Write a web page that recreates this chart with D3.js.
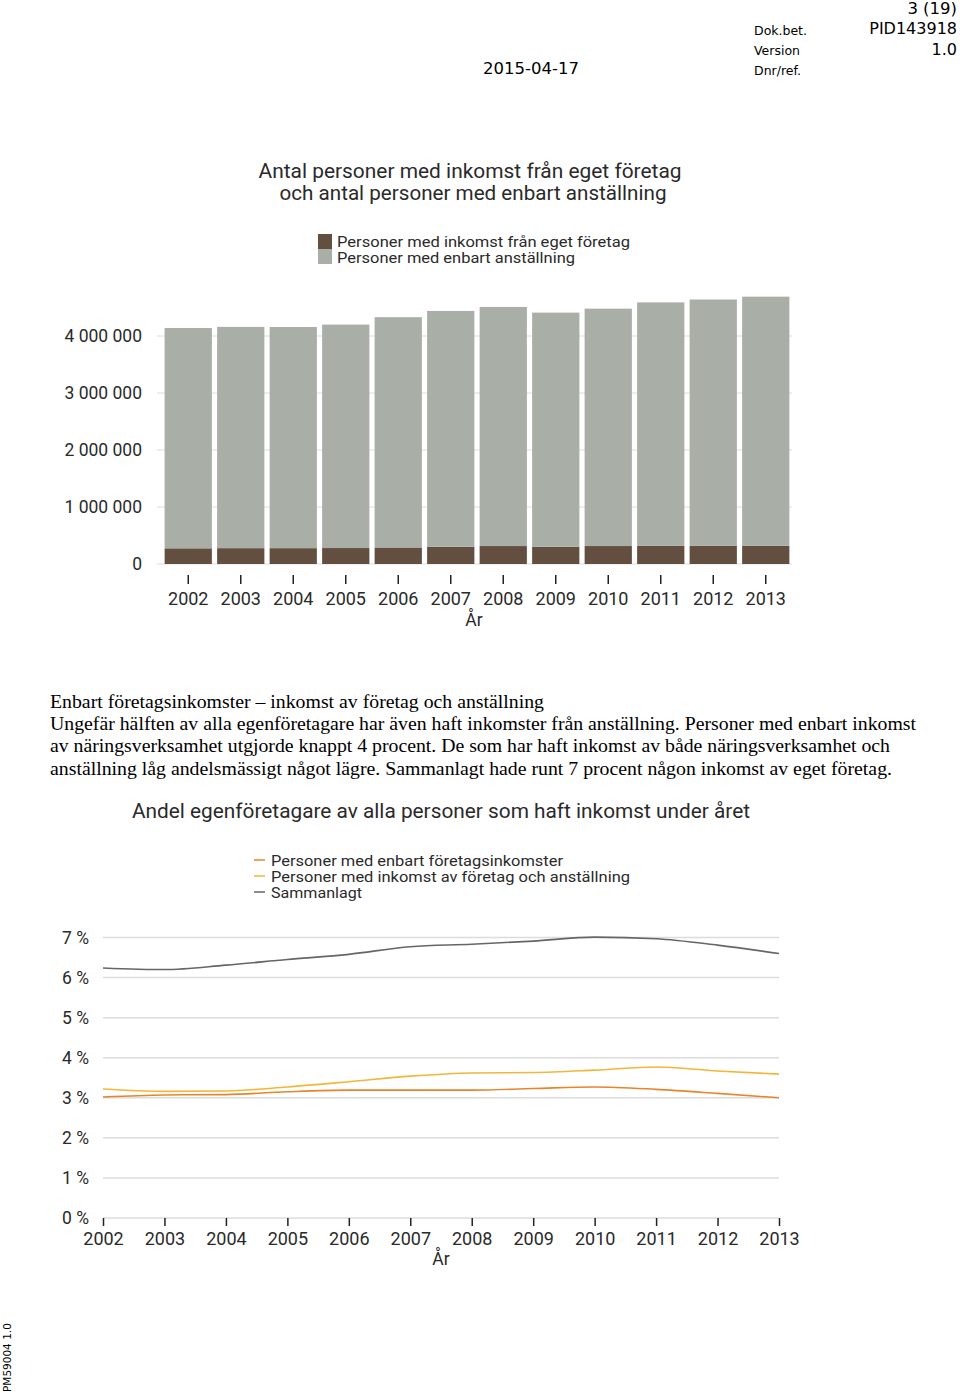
<!DOCTYPE html>
<html><head><meta charset="utf-8">
<script src="https://cdn.jsdelivr.net/npm/d3@7"></script>
<style>
html,body{margin:0;padding:0;background:#fff;}
svg{display:block;}
</style></head>
<body>
<svg id="page" width="960" height="1395"></svg>
<script>
// ---- Data ----
const years = ["2002","2003","2004","2005","2006","2007","2008","2009","2010","2011","2012","2013"];
const barSeriesNames = ["Personer med inkomst från eget företag","Personer med enbart anställning"];
const ownBusiness = [275000,278000,278000,280000,290000,300000,315000,300000,315000,318000,318000,318000];
const onlyEmployment = [3865000,3882000,3880000,3920000,4040000,4140000,4195000,4110000,4165000,4272000,4322000,4372000];
const barTicks = [0,1000000,2000000,3000000,4000000];

const lineSeriesNames = ["Personer med enbart företagsinkomster","Personer med inkomst av företag och anställning","Sammanlagt"];
const onlyBusinessPct = [3.02,3.07,3.08,3.15,3.19,3.19,3.19,3.23,3.27,3.21,3.11,3.00];
const bothPct = [3.22,3.16,3.17,3.27,3.40,3.54,3.62,3.63,3.69,3.77,3.67,3.59];
const totalPct = [6.24,6.20,6.31,6.45,6.58,6.77,6.83,6.91,7.01,6.97,6.81,6.60];
const pctTicks = [0,1,2,3,4,5,6,7];

const paragraph = [
 "Enbart företagsinkomster – inkomst av företag och anställning",
 "Ungefär hälften av alla egenföretagare har även haft inkomster från anställning. Personer med enbart inkomst",
 "av näringsverksamhet utgjorde knappt 4 procent. De som har haft inkomst av både näringsverksamhet och",
 "anställning låg andelsmässigt något lägre. Sammanlagt hade runt 7 procent någon inkomst av eget företag."
];

// ---- Setup ----
const svg = d3.select("#page");
svg.append("rect").attr("width",960).attr("height",1395).attr("fill","#fff");
const chartFont = "Roboto, 'DejaVu Sans', sans-serif";
const txt = "#2a2a2a";

// Header
const hdr = svg.append("g").attr("font-family","'DejaVu Sans', Verdana, sans-serif").attr("fill","#000");
hdr.append("text").attr("x",957).attr("y",14).attr("text-anchor","end").attr("font-size",16.5).text("3 (19)");
hdr.append("text").attr("x",957).attr("y",34).attr("text-anchor","end").attr("font-size",16).text("PID143918");
hdr.append("text").attr("x",957).attr("y",55).attr("text-anchor","end").attr("font-size",16).text("1.0");
hdr.append("text").attr("x",754).attr("y",35).attr("font-size",12.5).text("Dok.bet.");
hdr.append("text").attr("x",754).attr("y",55).attr("font-size",12.5).text("Version");
hdr.append("text").attr("x",754).attr("y",75).attr("font-size",12.5).text("Dnr/ref.");
hdr.append("text").attr("x",483).attr("y",74).attr("font-size",16.5).text("2015-04-17");

// Vertical footer
svg.append("text").attr("transform","translate(11,1392) rotate(-90)")
  .attr("font-family","'DejaVu Sans', sans-serif").attr("font-size",10.5).attr("fill","#000").text("PM59004 1.0");

// Paragraph
const para = svg.append("g").attr("font-family","'Liberation Serif','Times New Roman',serif").attr("font-size",19).attr("fill","#000");
const paraY = [708,730,752,775];
const paraW = [494,866,840,842];
paragraph.forEach((t,i)=>{
  para.append("text").attr("x",50).attr("y",paraY[i])
    .attr("textLength",paraW[i]).attr("lengthAdjust","spacingAndGlyphs").text(t);
});

// ---- Bar chart ----
const bx = d3.scaleBand().domain(years).range([162,792]).paddingInner(0.1).paddingOuter(0.05);
const by = d3.scaleLinear().domain([0,4000000]).range([564,336]);
const barColors = ["#634f3f","#a9aea7"];
const loc = d3.formatLocale({decimal:",",thousands:" ",grouping:[3],currency:["",""]});
const fmt = loc.format(",");

const bc = svg.append("g").attr("font-family",chartFont).attr("fill",txt);
bc.append("text").attr("x",470).attr("y",178).attr("text-anchor","middle").attr("font-size",20.5)
  .attr("textLength",423).attr("lengthAdjust","spacingAndGlyphs").text("Antal personer med inkomst från eget företag");
bc.append("text").attr("x",473).attr("y",200).attr("text-anchor","middle").attr("font-size",20.5)
  .attr("textLength",387).attr("lengthAdjust","spacingAndGlyphs").text("och antal personer med enbart anställning");

// gridlines + y labels
const byAxis = d3.axisLeft(by).tickValues(barTicks).tickFormat(fmt).tickSize(0).tickPadding(0);
const bya = bc.append("g").attr("transform","translate(142,0)").call(byAxis);
bya.select(".domain").remove();
bya.selectAll("text").attr("font-size",17.5).attr("fill",txt).attr("font-family",chartFont);
bc.append("g").selectAll("line").data(barTicks).join("line")
  .attr("x1",157).attr("x2",792).attr("y1",d=>by(d)).attr("y2",d=>by(d))
  .attr("stroke","#e8e8e8").attr("stroke-width",1.5);

const stackData = years.map((y,i)=>({year:y, own:ownBusiness[i], emp:onlyEmployment[i]}));
const stacked = d3.stack().keys(["own","emp"])(stackData);
bc.append("g").selectAll("g").data(stacked).join("g").attr("fill",(d,i)=>barColors[i])
  .selectAll("rect").data(d=>d).join("rect")
  .attr("x",d=>bx(d.data.year)).attr("width",bx.bandwidth())
  .attr("y",d=>by(d[1])).attr("height",d=>by(d[0])-by(d[1]));

const bxAxis = d3.axisBottom(bx).tickSize(9).tickPadding(8);
const bxa = bc.append("g").attr("transform","translate(0,575)").call(bxAxis);
bxa.select(".domain").remove();
bxa.selectAll(".tick line").attr("stroke","#222").attr("stroke-width",1.5);
bxa.selectAll("text").attr("font-size",18).attr("fill",txt).attr("font-family",chartFont);
bc.append("text").attr("x",474).attr("y",626).attr("text-anchor","middle").attr("font-size",17.5).text("År");

// legend
const bl = bc.append("g");
barSeriesNames.forEach((n,i)=>{
  bl.append("rect").attr("x",318).attr("y",234+i*15).attr("width",14).attr("height",15).attr("fill",barColors[i]);
  bl.append("text").attr("x",337).attr("y",247+i*16).attr("font-size",14.5)
    .attr("textLength",i===0?293:238).attr("lengthAdjust","spacingAndGlyphs").text(n);
});

// ---- Line chart ----
const lx = d3.scalePoint().domain(years).range([103,779]);
const ly = d3.scaleLinear().domain([0,7]).range([1218,937.5]);
const lineColors = ["#e8852c","#f2b73a","#666666"];
const lc = svg.append("g").attr("font-family",chartFont).attr("fill",txt);
lc.append("text").attr("x",441).attr("y",818).attr("text-anchor","middle").attr("font-size",20.5)
  .attr("textLength",618).attr("lengthAdjust","spacingAndGlyphs").text("Andel egenföretagare av alla personer som haft inkomst under året");

lc.append("g").selectAll("line").data(pctTicks).join("line")
  .attr("x1",103).attr("x2",779).attr("y1",d=>ly(d)).attr("y2",d=>ly(d))
  .attr("stroke","#dcdcdc").attr("stroke-width",1.5);
const lyAxis = d3.axisLeft(ly).tickValues(pctTicks).tickFormat(d=>d+" %").tickSize(0).tickPadding(0);
const lya = lc.append("g").attr("transform","translate(89,0)").call(lyAxis);
lya.select(".domain").remove();
lya.selectAll("text").attr("font-size",17.5).attr("fill",txt).attr("font-family",chartFont);

const lxAxis = d3.axisBottom(lx).tickSize(8).tickPadding(6);
const lxa = lc.append("g").attr("transform","translate(0,1218)").call(lxAxis);
lxa.select(".domain").remove();
lxa.selectAll(".tick line").attr("stroke","#222").attr("stroke-width",1.5);
lxa.selectAll("text").attr("font-size",18).attr("fill",txt).attr("font-family",chartFont);
lc.append("text").attr("x",441).attr("y",1265).attr("text-anchor","middle").attr("font-size",17.5).text("År");

const seriesArr = [onlyBusinessPct, bothPct, totalPct];
const lineGen = d3.line().x((d,i)=>lx(years[i])).y(d=>ly(d)).curve(d3.curveMonotoneX);
lc.append("g").selectAll("path").data(seriesArr).join("path")
  .attr("d",d=>lineGen(d)).attr("fill","none")
  .attr("stroke",(d,i)=>lineColors[i]).attr("stroke-width",1.6);

const ll = lc.append("g");
const legW = [292,359,91];
lineSeriesNames.forEach((n,i)=>{
  ll.append("line").attr("x1",254).attr("x2",265).attr("y1",860+i*16).attr("y2",860+i*16)
    .attr("stroke",lineColors[i]).attr("stroke-width",1.5);
  ll.append("text").attr("x",271).attr("y",866+i*16).attr("font-size",14.5)
    .attr("textLength",legW[i]).attr("lengthAdjust","spacingAndGlyphs").text(n);
});
</script>
</body></html>
